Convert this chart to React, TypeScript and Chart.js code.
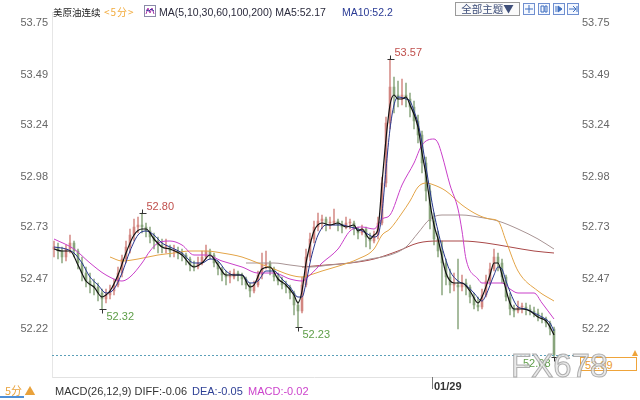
import React, { useEffect, useRef } from 'react';
import { Chart, registerables } from 'chart.js';

Chart.register(...registerables);

const SLOT_COUNT = 131;
const DAY_BREAK_INDEX = 95;
const DAY_LABEL = '01/29';

const xLabels: string[] = Array.from({ length: SLOT_COUNT }, (_, i) => {
  const mins = ((((i - DAY_BREAK_INDEX) * 5) % 1440) + 1440) % 1440;
  return String(Math.floor(mins / 60)).padStart(2, '0') + ':' + String(mins % 60).padStart(2, '0');
});

const yTickValues = [53.75, 53.49, 53.24, 52.98, 52.73, 52.47, 52.22];
const Y_MIN = 51.98;
const Y_MAX = 53.802;

const opens = [
  52.62, 52.63, 52.61, 52.58, 52.62, 52.65, 52.61, 52.55, 52.5, 52.46,
  52.44, 52.43, 52.4, 52.37, 52.39, 52.41, 52.44, 52.5, 52.57, 52.63,
  52.69, 52.73, 52.74, 52.73, 52.71, 52.68, 52.66, 52.64, 52.63, 52.63,
  52.61, 52.61, 52.6, 52.59, 52.57, 52.54, 52.53, 52.55, 52.58, 52.61,
  52.59, 52.55, 52.52, 52.49, 52.48, 52.48, 52.5, 52.49, 52.47, 52.44,
  52.41, 52.44, 52.49, 52.54, 52.55, 52.52, 52.48, 52.46, 52.44, 52.43,
  52.4, 52.34, 52.31, 52.44, 52.58, 52.67, 52.73, 52.76, 52.77, 52.75,
  52.75, 52.76, 52.74, 52.73, 52.75, 52.75, 52.72, 52.7, 52.72, 52.68,
  52.66, 52.69, 52.75, 52.95, 53.25, 53.43, 53.39, 53.37, 53.39, 53.37,
  53.33, 53.26, 53.19, 53.05, 52.91, 52.76, 52.67, 52.61, 52.55, 52.48,
  52.44, 52.44, 52.43, 52.45, 52.43, 52.38, 52.34, 52.33, 52.39, 52.46,
  52.52, 52.58, 52.55, 52.48, 52.38, 52.32, 52.31, 52.33, 52.33, 52.32,
  52.31, 52.3, 52.28, 52.27, 52.25, 52.22,
];
const highs = [
  52.66, 52.65, 52.63, 52.64, 52.69, 52.66, 52.62, 52.58, 52.53, 52.5,
  52.47, 52.45, 52.42, 52.42, 52.44, 52.47, 52.53, 52.59, 52.66, 52.72,
  52.77, 52.78, 52.8, 52.75, 52.73, 52.7, 52.68, 52.67, 52.67, 52.64,
  52.64, 52.63, 52.62, 52.6, 52.58, 52.56, 52.58, 52.61, 52.64, 52.62,
  52.6, 52.56, 52.53, 52.51, 52.51, 52.52, 52.51, 52.5, 52.48, 52.45,
  52.46, 52.51, 52.6, 52.61, 52.56, 52.53, 52.5, 52.48, 52.46, 52.44,
  52.41, 52.36, 52.48, 52.62, 52.7, 52.76, 52.8, 52.79, 52.78, 52.78,
  52.82, 52.77, 52.76, 52.78, 52.77, 52.76, 52.73, 52.74, 52.73, 52.7,
  52.71, 52.78, 52.98, 53.28, 53.57, 53.48, 53.46, 53.47, 53.45, 53.4,
  53.36, 53.29, 53.21, 53.08, 52.94, 52.8, 52.71, 52.66, 52.57, 52.52,
  52.5, 52.57, 52.49, 52.47, 52.44, 52.4, 52.38, 52.42, 52.49, 52.55,
  52.62, 52.6, 52.57, 52.49, 52.4, 52.34, 52.36, 52.35, 52.35, 52.34,
  52.33, 52.32, 52.3, 52.28, 52.26, 52.23,
];
const lows = [
  52.58, 52.57, 52.55, 52.56, 52.6, 52.58, 52.52, 52.46, 52.43, 52.4,
  52.39, 52.36, 52.32, 52.35, 52.37, 52.39, 52.43, 52.48, 52.55, 52.6,
  52.66, 52.7, 52.7, 52.68, 52.65, 52.62, 52.6, 52.6, 52.6, 52.58,
  52.58, 52.57, 52.56, 52.54, 52.51, 52.51, 52.52, 52.54, 52.57, 52.57,
  52.53, 52.49, 52.46, 52.44, 52.45, 52.47, 52.46, 52.44, 52.42, 52.38,
  52.4, 52.43, 52.47, 52.52, 52.49, 52.46, 52.44, 52.42, 52.4, 52.37,
  52.29, 52.23, 52.3, 52.43, 52.56, 52.65, 52.71, 52.72, 52.71, 52.72,
  52.74, 52.71, 52.7, 52.72, 52.72, 52.69, 52.67, 52.69, 52.63, 52.62,
  52.65, 52.67, 52.74, 52.93, 53.22, 53.3, 53.33, 53.34, 53.33, 53.28,
  53.22, 53.15, 53.0, 52.86, 52.72, 52.64, 52.58, 52.39, 52.44, 52.4,
  52.41, 52.22, 52.41, 52.39, 52.35, 52.32, 52.31, 52.32, 52.38, 52.44,
  52.51, 52.51, 52.45, 52.36, 52.29, 52.28, 52.3, 52.3, 52.29, 52.29,
  52.28, 52.26, 52.25, 52.23, 52.19, 52.08,
];
const closes = [
  52.63, 52.61, 52.58, 52.62, 52.65, 52.61, 52.55, 52.5, 52.46, 52.44,
  52.43, 52.4, 52.37, 52.39, 52.41, 52.44, 52.5, 52.57, 52.63, 52.69,
  52.73, 52.74, 52.73, 52.71, 52.68, 52.66, 52.64, 52.63, 52.63, 52.61,
  52.61, 52.6, 52.59, 52.57, 52.54, 52.53, 52.55, 52.58, 52.61, 52.59,
  52.55, 52.52, 52.49, 52.48, 52.48, 52.5, 52.49, 52.47, 52.44, 52.41,
  52.44, 52.49, 52.54, 52.55, 52.52, 52.48, 52.46, 52.44, 52.43, 52.4,
  52.34, 52.31, 52.44, 52.58, 52.67, 52.73, 52.76, 52.77, 52.75, 52.75,
  52.76, 52.74, 52.73, 52.75, 52.75, 52.72, 52.7, 52.72, 52.68, 52.66,
  52.69, 52.75, 52.95, 53.25, 53.43, 53.39, 53.37, 53.39, 53.37, 53.33,
  53.26, 53.19, 53.05, 52.91, 52.76, 52.67, 52.61, 52.55, 52.48, 52.44,
  52.44, 52.43, 52.45, 52.43, 52.38, 52.34, 52.33, 52.39, 52.46, 52.52,
  52.58, 52.55, 52.48, 52.38, 52.32, 52.31, 52.33, 52.33, 52.32, 52.31,
  52.3, 52.28, 52.27, 52.25, 52.22, 52.09,
];

// Moving-average lines: [candle index, value]
const ma5Points = [
  [0, 52.62], [2, 52.61], [4, 52.61], [6, 52.54], [8, 52.46], [10, 52.43], [12, 52.38], [13, 52.39],
  [14, 52.41], [16, 52.49], [18, 52.6], [20, 52.69], [22, 52.72], [23, 52.72], [25, 52.67], [27, 52.63],
  [29, 52.62], [32, 52.59], [35, 52.53], [37, 52.55], [39, 52.59], [41, 52.54], [43, 52.49], [45, 52.49],
  [47, 52.49], [49, 52.43], [50, 52.44], [52, 52.52], [54, 52.53], [56, 52.47], [58, 52.44], [60, 52.39],
  [61, 52.35], [62, 52.41], [63, 52.55], [64, 52.64], [65, 52.71], [67, 52.75], [69, 52.74], [71, 52.75],
  [73, 52.73], [75, 52.74], [76, 52.71], [77, 52.72], [79, 52.67], [80, 52.69], [81, 52.72], [82, 52.95],
  [83, 53.17], [84, 53.34], [85, 53.39], [86, 53.37], [87, 53.37], [88, 53.38], [89, 53.34], [91, 53.23],
  [92, 53.1], [93, 52.99], [94, 52.85], [95, 52.74], [96, 52.67], [98, 52.5], [100, 52.45], [102, 52.45],
  [104, 52.41], [106, 52.35], [107, 52.38], [109, 52.49], [110, 52.55], [111, 52.55], [112, 52.49],
  [114, 52.35], [115, 52.32], [117, 52.32], [119, 52.31], [121, 52.28], [123, 52.26], [124, 52.23], [125, 52.19],
];
const ma10Points = [
  [0, 52.63], [3, 52.62], [5, 52.6], [7, 52.55], [9, 52.48], [11, 52.44], [13, 52.4], [15, 52.42],
  [17, 52.5], [19, 52.61], [21, 52.69], [23, 52.71], [25, 52.69], [27, 52.65], [29, 52.63], [32, 52.6],
  [35, 52.55], [37, 52.55], [39, 52.57], [41, 52.56], [43, 52.51], [45, 52.49], [47, 52.49], [49, 52.45],
  [51, 52.46], [53, 52.51], [55, 52.51], [57, 52.47], [59, 52.43], [61, 52.38], [62, 52.38], [63, 52.45],
  [64, 52.55], [65, 52.63], [66, 52.69], [68, 52.74], [70, 52.74], [72, 52.74], [74, 52.73], [76, 52.72],
  [78, 52.7], [80, 52.68], [81, 52.69], [82, 52.8], [83, 53.02], [84, 53.22], [85, 53.34], [86, 53.38],
  [88, 53.37], [89, 53.36], [90, 53.31], [91, 53.25], [92, 53.15], [93, 53.03], [94, 52.91], [95, 52.8],
  [96, 52.71], [97, 52.63], [99, 52.51], [101, 52.46], [103, 52.44], [105, 52.4], [107, 52.36], [108, 52.39],
  [110, 52.49], [111, 52.53], [112, 52.52], [113, 52.46], [115, 52.36], [116, 52.33], [118, 52.32],
  [120, 52.3], [122, 52.28], [124, 52.25], [125, 52.21],
];
const ma30Points = [
  [0, 52.67], [5, 52.62], [9, 52.55], [13, 52.49], [17, 52.46], [19, 52.48], [22, 52.55], [24, 52.61],
  [26, 52.65], [29, 52.66], [32, 52.64], [35, 52.59], [38, 52.59], [42, 52.56], [47, 52.53], [51, 52.5],
  [55, 52.5], [59, 52.47], [62, 52.46], [64, 52.49], [67, 52.55], [71, 52.62], [74, 52.71], [77, 52.73],
  [80, 52.72], [82, 52.77], [84, 52.79], [87, 52.94], [90, 53.05], [92, 53.14], [95, 53.17], [96, 53.15],
  [97, 53.09], [99, 52.94], [101, 52.82], [102, 52.71], [103, 52.57], [106, 52.47], [107, 52.45],
  [110, 52.45], [112, 52.45], [114, 52.42], [116, 52.4], [120, 52.4], [122, 52.35], [125, 52.27],
];
const ma60Points = [
  [14, 52.58], [17, 52.56], [21, 52.57], [26, 52.59], [30, 52.6], [34, 52.61], [38, 52.61], [42, 52.6],
  [47, 52.58], [51, 52.55], [55, 52.52], [59, 52.49], [62, 52.48], [64, 52.49], [67, 52.51], [72, 52.54],
  [76, 52.57], [80, 52.62], [82, 52.69], [84, 52.72], [87, 52.8], [89, 52.86], [91, 52.93], [93, 52.95],
  [95, 52.94], [98, 52.91], [102, 52.84], [106, 52.79], [109, 52.77], [111, 52.76], [113, 52.66],
  [116, 52.51], [121, 52.41], [125, 52.36],
];
const ma100Points = [
  [48, 52.55], [55, 52.55], [59, 52.54], [64, 52.53], [69, 52.54], [74, 52.55], [79, 52.57], [84, 52.59],
  [88, 52.63], [91, 52.7], [94, 52.77], [97, 52.79], [102, 52.79], [106, 52.78], [111, 52.76],
  [116, 52.72], [121, 52.67], [125, 52.62],
];
const ma200Points = [
  [62, 52.53], [68, 52.54], [74, 52.55], [80, 52.57], [86, 52.61], [91, 52.65], [96, 52.66],
  [102, 52.66], [108, 52.65], [114, 52.63], [120, 52.61], [125, 52.6],
];

const extremeMarks = [
  { index: 84, value: 53.57, kind: 'high' },
  { index: 22, value: 52.8, kind: 'high' },
  { index: 12, value: 52.32, kind: 'low' },
  { index: 61, value: 52.23, kind: 'low' },
  { index: 125, value: 52.08, kind: 'low' },
];

const LAST_PRICE = closes[closes.length - 1];

const UP = 'rgba(208,128,122,0.85)';
const DOWN = 'rgba(130,160,118,0.85)';
const LATIN = "'Liberation Sans', Arial, sans-serif";
const CJK = "'Noto Sans CJK SC', 'Liberation Sans', sans-serif";

const toPoints = (pts: number[][]) => pts.map(([i, v]) => ({ x: xLabels[i], y: v }));

const lineSet = (label: string, pts: number[][], color: string, width: number, order: number) => ({
  type: 'line',
  label,
  data: toPoints(pts),
  borderColor: color,
  borderWidth: width,
  pointRadius: 0,
  cubicInterpolationMode: 'monotone',
  fill: false,
  order,
  yAxisID: 'y',
});

const overlayPlugin = {
  id: 'overlay',
  afterDatasetsDraw(chart: any) {
    const { ctx, chartArea, scales } = chart;
    const x = scales.x;
    const y = scales.y;
    ctx.save();
    // last price dotted line
    const ly = Math.round(y.getPixelForValue(LAST_PRICE)) + 0.5;
    ctx.setLineDash([2, 2]);
    ctx.strokeStyle = '#5b9fb8';
    ctx.lineWidth = 1;
    ctx.beginPath();
    ctx.moveTo(chartArea.left, ly);
    ctx.lineTo(chartArea.right, ly);
    ctx.stroke();
    ctx.setLineDash([]);

    // extreme markers
    ctx.font = '11px ' + LATIN;
    extremeMarks.forEach((m) => {
      const px = Math.round(x.getPixelForValue(m.index)) + 0.5;
      const py = Math.round(y.getPixelForValue(m.value)) + 0.5;
      ctx.strokeStyle = '#333';
      ctx.beginPath();
      ctx.moveTo(px - 3, py);
      ctx.lineTo(px + 4, py);
      if (m.kind === 'high') {
        ctx.moveTo(px, py - 4);
        ctx.lineTo(px, py);
      } else {
        ctx.moveTo(px, py);
        ctx.lineTo(px, py + 4);
      }
      ctx.stroke();
      ctx.textBaseline = 'middle';
      const label = m.value.toFixed(2);
      if (m.kind === 'high') {
        ctx.fillStyle = '#c0504d';
        ctx.textAlign = 'left';
        ctx.fillText(label, px + 4, py - 7);
      } else {
        ctx.fillStyle = '#5e9e48';
        if (m.index > SLOT_COUNT - 15) {
          ctx.textAlign = 'right';
          ctx.fillText(label, px - 4, py + 6);
        } else {
          ctx.textAlign = 'left';
          ctx.fillText(label, px + 4, py + 7);
        }
      }
    });

    // day separator tick
    const slot = (chartArea.right - chartArea.left) / SLOT_COUNT;
    const sx = Math.round(x.getPixelForTick(DAY_BREAK_INDEX) - slot / 2) + 0.5;
    ctx.strokeStyle = '#777';
    ctx.beginPath();
    ctx.moveTo(sx, chartArea.bottom);
    ctx.lineTo(sx, chartArea.bottom + 12);
    ctx.stroke();
    ctx.restore();
  },
};

export default function App() {
  const canvasRef = useRef<HTMLCanvasElement | null>(null);

  useEffect(() => {
    if (!canvasRef.current) return;
    const candleColors = closes.map((c, i) => (c >= opens[i] ? UP : DOWN));
    const chart = new Chart(canvasRef.current, {
      type: 'bar',
      data: {
        labels: xLabels,
        datasets: [
          lineSet('MA5', ma5Points, '#111111', 1.2, 0),
          lineSet('MA10', ma10Points, '#27368f', 1, 1),
          lineSet('MA30', ma30Points, '#c93fc9', 1, 1),
          lineSet('MA60', ma60Points, '#e3a447', 1, 1),
          lineSet('MA100', ma100Points, '#a89494', 1, 1),
          lineSet('MA200', ma200Points, '#a94848', 1, 1),
          {
            type: 'bar',
            label: 'wick',
            data: lows.map((l, i) => [l, highs[i]]),
            backgroundColor: candleColors,
            barThickness: 1,
            grouped: false,
            order: 3,
            yAxisID: 'y',
          },
          {
            type: 'bar',
            label: 'body',
            data: opens.map((o, i) => [o, closes[i]]),
            backgroundColor: candleColors,
            barThickness: 2,
            minBarLength: 1,
            grouped: false,
            order: 2,
            yAxisID: 'y',
          },
        ],
      } as any,
      options: {
        responsive: false,
        maintainAspectRatio: false,
        animation: false,
        events: [],
        layout: { padding: { top: 9, left: 0, right: 0, bottom: 0 } },
        plugins: {
          legend: { display: false },
          tooltip: { enabled: false },
          title: { display: false },
        },
        scales: {
          x: {
            type: 'category',
            offset: true,
            afterFit: (s: any) => {
              s.height = 23;
            },
            grid: { display: true, offset: true, drawOnChartArea: false, drawTicks: false, color: 'transparent' },
            border: { display: true, color: '#e2e2e2' },
            ticks: {
              autoSkip: false,
              maxRotation: 0,
              minRotation: 0,
              align: 'start',
              padding: 3,
              color: '#333',
              font: { size: 11, weight: 'bold', family: LATIN },
              callback: (_v: any, idx: number) => (idx === DAY_BREAK_INDEX ? DAY_LABEL : ''),
            },
          },
          y: {
            type: 'linear',
            position: 'left',
            min: Y_MIN,
            max: Y_MAX,
            afterFit: (s: any) => {
              s.width = 52;
            },
            afterBuildTicks: (s: any) => {
              s.ticks = yTickValues.map((v) => ({ value: v }));
            },
            grid: { display: true, drawOnChartArea: false, drawTicks: false, color: 'transparent' },
            border: { display: true, color: '#e6e6e6' },
            ticks: {
              padding: 4,
              color: '#666',
              font: { size: 11, family: LATIN },
              callback: (v: any) => Number(v).toFixed(2),
            },
          },
          y2: {
            type: 'linear',
            position: 'right',
            min: Y_MIN,
            max: Y_MAX,
            afterFit: (s: any) => {
              s.width = 64;
            },
            afterBuildTicks: (s: any) => {
              s.ticks = yTickValues.map((v) => ({ value: v }));
            },
            grid: { display: true, drawOnChartArea: false, drawTicks: false, color: 'transparent' },
            border: { display: false },
            ticks: {
              padding: 6,
              color: '#666',
              font: { size: 11, family: LATIN },
              callback: (v: any) => Number(v).toFixed(2),
            },
          },
        },
      } as any,
      plugins: [overlayPlugin],
    });
    return () => chart.destroy();
  }, []);

  const abs = (s: any) => ({ position: 'absolute', whiteSpace: 'nowrap', ...s });

  return (
    <div style={{ position: 'fixed', left: 0, top: 0, width: 640, height: 400, background: '#fff', overflow: 'hidden' }}>
      <canvas ref={canvasRef} width={640} height={400} style={{ position: 'absolute', left: 0, top: 0, width: 640, height: 400 }} />

      {/* header legend */}
      <span style={abs({ left: 53, top: 7, fontFamily: CJK, fontSize: 9.5, lineHeight: '10px', color: '#222' })}>美原油连续</span>
      <span style={abs({ left: 104, top: 7, fontFamily: CJK, fontSize: 10, lineHeight: '10px', color: '#f2aa3a', letterSpacing: 1 })}>&lt;5分&gt;</span>
      <svg style={abs({ left: 144, top: 5 })} width={12} height={12}>
        <rect x={0.5} y={0.5} width={11} height={11} fill="#fff" stroke="#8a8aa8" />
        <polyline points="2,9 4,3 6,8 8,3 10,9" fill="none" stroke="#b03ab0" strokeWidth={1} />
        <polyline points="2,5 5,6 7,4 10,6" fill="none" stroke="#3a3a9a" strokeWidth={1} />
      </svg>
      <span style={abs({ left: 159, top: 7, fontFamily: LATIN, fontSize: 10.5, lineHeight: '11px', color: '#2b2b3d' })}>MA(5,10,30,60,100,200) MA5:52.17</span>
      <span style={abs({ left: 342, top: 7, fontFamily: LATIN, fontSize: 10.5, lineHeight: '11px', color: '#2a3b95' })}>MA10:52.2</span>

      {/* top-right buttons */}
      <div style={abs({ left: 455, top: 2, width: 63, height: 12, border: '1px solid #9a9a9a', background: '#fafafa', fontFamily: CJK, fontSize: 10.5, lineHeight: '12px', color: '#3f4f7a', textAlign: 'center' })}>全部主题▼</div>
      {[523, 538, 553, 567].map((l, k) => (
        <svg key={k} style={abs({ left: l, top: 3 })} width={12} height={12}>
          <rect x={0.5} y={0.5} width={11} height={11} fill="#f4f8ff" stroke="#6f8fd0" />
          {k === 0 && <path d="M6 2 V10 M2 6 H10" stroke="#3f6fc0" strokeWidth={1} />}
          {k === 1 && <path d="M3 3 H6 V9 H3 Z M7 3 H9 V9 H7 Z" fill="none" stroke="#3f6fc0" strokeWidth={1} />}
          {k === 2 && <path d="M3 3 V9 M5 3 L9 6 L5 9 Z" fill="#3f6fc0" stroke="#3f6fc0" strokeWidth={1} />}
          {k === 3 && <path d="M2 6 H8 M6 3 L9 6 L6 9 M10 3 V9" fill="none" stroke="#3f6fc0" strokeWidth={1} />}
        </svg>
      ))}

      {/* bottom row */}
      <span style={abs({ left: 5, top: 385, fontFamily: CJK, fontSize: 11, lineHeight: '11px', color: '#e9a23b' })}>5分 ▲</span>
      <div style={abs({ left: 0, top: 396, width: 24, height: 2, background: '#4f8fd6' })} />
      <span style={abs({ left: 55, top: 386, fontFamily: LATIN, fontSize: 11, lineHeight: '11px', color: '#333' })}>MACD(26,12,9) DIFF:-0.06</span>
      <span style={abs({ left: 192, top: 386, fontFamily: LATIN, fontSize: 11, lineHeight: '11px', color: '#2d3f95' })}>DEA:-0.05</span>
      <span style={abs({ left: 248, top: 386, fontFamily: LATIN, fontSize: 11, lineHeight: '11px', color: '#cc44cc' })}>MACD:-0.02</span>

      {/* last price box */}
      <div style={abs({ left: 580, top: 357, width: 57, height: 14, border: '1px solid #efa43a', background: '#fff', fontFamily: LATIN, fontSize: 11, lineHeight: '14px', color: '#e99a2e', paddingLeft: 4, boxSizing: 'border-box' })}>{LAST_PRICE.toFixed(2)}</div>
      <div style={abs({ left: 632, top: 350, width: 0, height: 0, borderLeft: '3px solid transparent', borderRight: '3px solid transparent', borderBottom: '6px solid #efa43a' })} />

      {/* watermark */}
      <span style={abs({ left: 511, top: 349, fontFamily: LATIN, fontSize: 33, lineHeight: '33px', color: 'rgba(228,228,228,0.8)', WebkitTextStroke: '1px rgba(150,150,150,0.75)' })}>FX678</span>
    </div>
  );
}
